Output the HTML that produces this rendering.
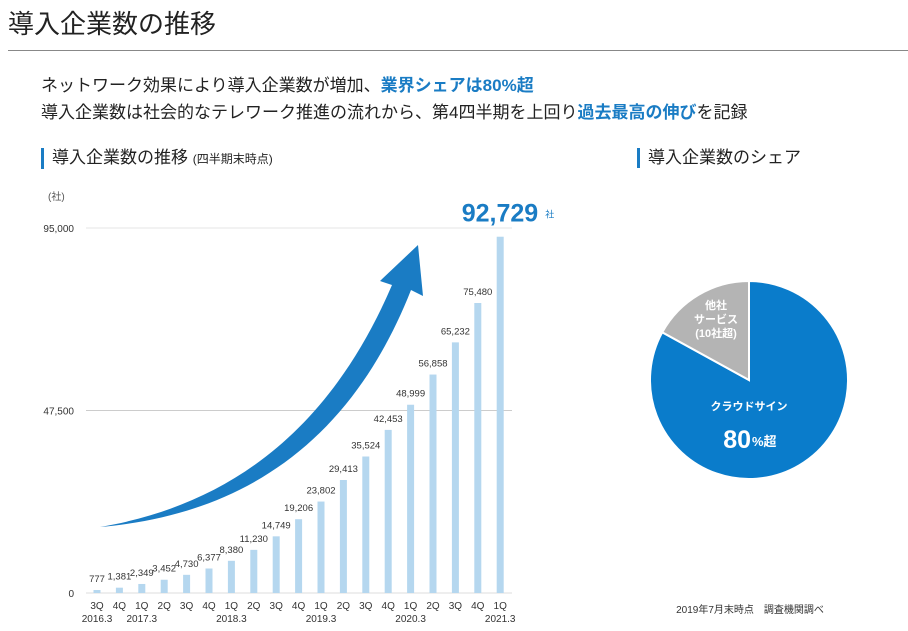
<!DOCTYPE html>
<html><head><meta charset="utf-8">
<style>
body{margin:0;width:908px;height:631px;background:#fff;overflow:hidden;font-family:"Liberation Sans","Noto Sans CJK JP",sans-serif;color:#222;position:relative}
.abs{position:absolute;white-space:nowrap}
.b{color:#1a7cc4;font-weight:bold}
.h{font-size:17px;border-left:3px solid #1a7cc4;padding-left:8px;line-height:20px}
</style></head><body>
<div class="abs" style="left:8px;top:4px;font-size:26px;">導入企業数の推移</div>
<div class="abs" style="left:8px;top:50px;width:900px;height:1px;background:#888"></div>
<div class="abs" style="left:41px;top:71px;font-size:17px">ネットワーク効果により導入企業数が増加、<span class="b">業界シェアは80%超</span></div>
<div class="abs" style="left:41px;top:98px;font-size:17px">導入企業数は社会的なテレワーク推進の流れから、第4四半期を上回り<span class="b">過去最高の伸び</span>を記録</div>
<div class="abs h" style="left:41px;top:148px">導入企業数の推移 <span style="font-size:12px">(四半期末時点)</span></div>
<div class="abs h" style="left:637px;top:148px">導入企業数のシェア</div>
<svg class="abs" style="left:0;top:0" width="908" height="631">
<g id="bars"></g>
<g id="pie"></g>
</svg>
<script>
const categories=["3Q","4Q","1Q","2Q","3Q","4Q","1Q","2Q","3Q","4Q","1Q","2Q","3Q","4Q","1Q","2Q","3Q","4Q","1Q"];
const yearLabels=["2016.3","","2017.3","","","","2018.3","","","","2019.3","","","","2020.3","","","","2021.3"];
const values=[777,1381,2349,3452,4730,6377,8380,11230,14749,19206,23802,29413,35524,42453,48999,56858,65232,75480,92729];
const valueLabels=["777","1,381","2,349","3,452","4,730","6,377","8,380","11,230","14,749","19,206","23,802","29,413","35,524","42,453","48,999","56,858","65,232","75,480",""];
const yTicks=[0,47500,95000];
const yTickLabels=["0","47,500","95,000"];
const shareValues=[83,17];
const NS="http://www.w3.org/2000/svg";
function mk(t,a,p){const e=document.createElementNS(NS,t);for(const k in a)e.setAttribute(k,a[k]);p.appendChild(e);return e;}
const g=document.getElementById('bars');
const y=v=>593-v/95000*365;
const x=i=>97+i*22.4;
yTicks.forEach((t,i)=>{
 if(t>0){const l=mk('line',{x1:86,x2:512,y1:y(t),y2:y(t),stroke:i==2?'#e4e4e4':'#ccc','stroke-width':1},g);
 
 }
 const tx=mk('text',{x:74,y:y(t)+4,'text-anchor':'end','font-size':10,fill:'#333'},g);tx.textContent=yTickLabels[i];
 
 
});
const ax=mk('line',{x1:86,x2:512,y1:593,y2:593,stroke:'#ddd'},g);


const unit=mk('text',{x:48,y:200,'font-size':10,fill:'#555'},g);unit.textContent='(社)';


values.forEach((v,i)=>{
 const r=mk('rect',{x:x(i)-3.5,y:y(v),width:7,height:593-y(v),fill:'#b5d7ef'},g);
 
 
 if(valueLabels[i]){const t=mk('text',{x:x(i),y:y(v)-8,'text-anchor':'middle','font-size':9.5,fill:'#333'},g);t.textContent=valueLabels[i];
 
 }
 const c=mk('text',{x:x(i),y:609,'text-anchor':'middle','font-size':10,fill:'#333'},g);c.textContent=categories[i];
 
 
 if(yearLabels[i]){const yl=mk('text',{x:x(i),y:622,'text-anchor':'middle','font-size':10,fill:'#333'},g);yl.textContent=yearLabels[i];
 
 }
});
const last=values.length-1;
const big=mk('text',{x:x(last)+38,y:y(values[last])-15,'text-anchor':'end','font-size':25,'font-weight':'bold',fill:'#1a7cc4'},g);big.textContent='92,729';


const sha=mk('text',{x:x(last)+45,y:y(values[last])-19,'font-size':9,fill:'#1a7cc4'},g);sha.textContent='社';


const arrow=mk('path',{d:'M100,527 C230,505 330,430 392,285 L380,281 L418,245 L423,296 L411,290 C350,445 240,515 100,527 Z',fill:'#1a7cc4'},g);


// pie
const p=document.getElementById('pie');
const cx=749,cy=380,R=99;
let a0=0;const cols=['#0a7ccb','#b4b4b4'];
shareValues.forEach((s,i)=>{
 const tot=shareValues.reduce((a,b)=>a+b,0);
 const a1=a0+s/tot*2*Math.PI;
 const p0=[cx+R*Math.sin(a0),cy-R*Math.cos(a0)],p1=[cx+R*Math.sin(a1),cy-R*Math.cos(a1)];
 const sl=mk('path',{d:`M${cx},${cy}L${p0[0]},${p0[1]}A${R},${R} 0 ${a1-a0>Math.PI?1:0} 1 ${p1[0]},${p1[1]}Z`,fill:cols[i],stroke:'#fff','stroke-width':2},p);
 
 
 a0=a1;
});
function tt(txt,xx,yy,fs,name,anc){const t=mk('text',{x:xx,y:yy,'text-anchor':anc||'middle','font-size':fs,'font-weight':'bold',fill:'#fff'},p);t.textContent=txt;
 
 return t;}
tt('他社',716,309,11,'other-label');
tt('サービス',716,323,11,'other-label');
tt('(10社超)',716,337,11,'other-label');
tt('クラウドサイン',749,410,11,'cloudsign-label');
tt('80',751,448,25,'cloudsign-share','end');
tt('%超',752,446,13,'cloudsign-share-suffix','start');
const src=mk('text',{x:750,y:613,'text-anchor':'middle','font-size':10,fill:'#333'},p);src.textContent='2019年7月末時点　調査機関調べ';


</script>
</body></html>
